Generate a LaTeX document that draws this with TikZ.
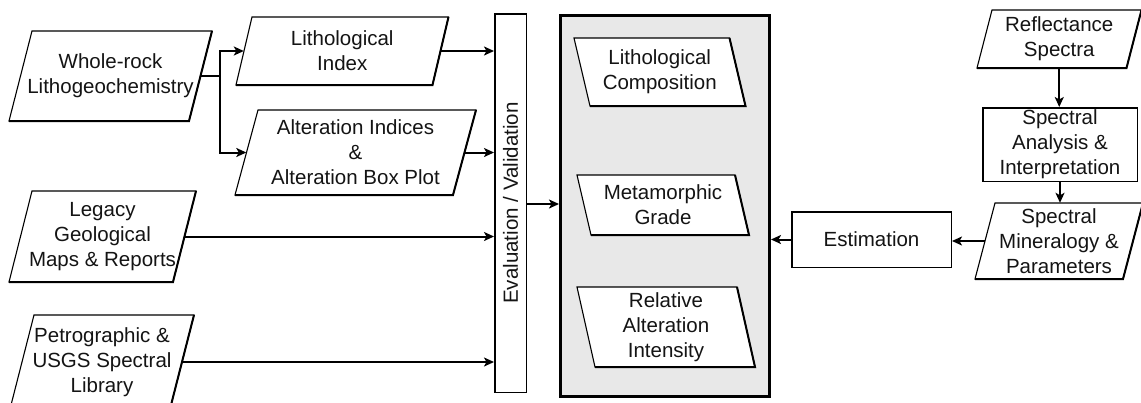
\documentclass[tikz,border=0pt]{standalone}
\usepackage{fontspec}
\setmainfont{Liberation Sans}
\usetikzlibrary{arrows.meta,calc}
\definecolor{boxgrey}{RGB}{232,232,232}
\definecolor{inkc}{RGB}{20,20,20}
\tikzset{
  pline/.style={draw=black, fill=white, line width=1.1pt, line join=miter},
  pshade/.style={draw=black, line width=2pt, line join=miter},
  ptext/.style={inner sep=0pt, align=center, text=inkc, font=\fontsize{20.5}{25}\selectfont},
  rbox/.style={draw=black, fill=white, line width=1.5pt, inner sep=0pt, align=center, text=inkc, font=\fontsize{20.5}{25}\selectfont},
  arr/.style={line width=2pt, -{Stealth[length=10pt, width=9pt, inset=2.5pt]}},
  plainline/.style={line width=2pt}
}
\newcommand{\pbox}[7]{%
  \filldraw[pline] ({#2-#4/2+#6/2},{#3-#5/2}) -- ({#2+#4/2+#6/2},{#3-#5/2}) -- ({#2+#4/2-#6/2},{#3+#5/2}) -- ({#2-#4/2-#6/2},{#3+#5/2}) -- cycle;
  \draw[pshade] ({#2+#4/2+#6/2},{#3-#5/2}) -- ({#2+#4/2-#6/2},{#3+#5/2}) -- ({#2-#4/2-#6/2},{#3+#5/2});
  \node[ptext, minimum width=#4pt, minimum height=#5pt] (#1) at (#2,#3) {#7};}
\begin{document}
\begin{tikzpicture}[x=1pt, y=-1pt]
\useasboundingbox (0,0) rectangle (1141,402);
\clip (0,0) rectangle (1141,402);
\fill[white] (0,0) rectangle (1141,402);
% main grey box
\node[draw=black, line width=3pt, fill=boxgrey, minimum width=209pt, minimum height=381pt, inner sep=0pt] (main) at (665,206) {};
% left inputs
\pbox{whole}{110.5}{76}{180}{90}{23}{Whole-rock\\Lithogeochemistry}
\pbox{litho}{342.25}{51}{196.5}{68}{16}{Lithological\\Index}
\pbox{alter}{355.5}{152.5}{218}{85}{23}{Alteration Indices\\\&\\Alteration Box Plot}
\pbox{legacy}{102.5}{236.5}{164}{91}{23}{Legacy\\Geological\\Maps \& Reports}
\pbox{petro}{102}{362}{160}{94}{24}{Petrographic \&\\USGS Spectral\\Library}
% evaluation bar
\node[rbox, minimum width=31.5pt, minimum height=378.5pt] (eval) at (510.5,203) {};
\node[ptext, rotate=90] (evaltxt) at (eval.center) {Evaluation / Validation};
% outputs inside main box
\pbox{lcomp}{659.75}{72}{155.5}{68}{-16}{Lithological\\Composition}
\pbox{meta}{663}{205}{158}{60}{-14}{Metamorphic\\Grade}
\pbox{relalt}{666}{327}{160}{80}{-18}{Relative\\Alteration\\Intensity}
% right side
\pbox{refl}{1059.25}{39}{149.5}{58}{15}{Reflectance\\Spectra}
\node[rbox, minimum width=154.5pt, minimum height=73.5pt] (anal) at (1060,144.5) {Spectral\\Analysis \&\\Interpretation};
\pbox{miner}{1059}{241}{148}{76}{20}{Spectral\\Mineralogy \&\\Parameters}
\node[rbox, minimum width=159.5pt, minimum height=55.5pt] (est) at (871.5,239.5) {Estimation};
% connectors
\draw[plainline] (whole.east) -- ++(19.5,0) coordinate (jn);
\draw[arr] (jn) |- (litho.west);
\draw[arr] (jn) |- (alter.west);
\draw[arr] (litho.east) -- (litho.east -| eval.west);
\draw[arr] (alter.east) -- (alter.east -| eval.west);
\draw[arr] (legacy.east) -- (legacy.east -| eval.west);
\draw[arr] (petro.east) -- (petro.east -| eval.west);
\draw[arr] ([yshift=-1pt]eval.east) -- ([yshift=-1pt]eval.east -| main.west);
\draw[arr] (refl.south) -- (refl.south |- anal.north);
\draw[arr] (anal.south) -- (anal.south |- miner.north);
\draw[arr] (miner.west) -- (miner.west -| est.east);
\draw[arr] (est.west) -- (est.west -| main.east);
\end{tikzpicture}
\end{document}
